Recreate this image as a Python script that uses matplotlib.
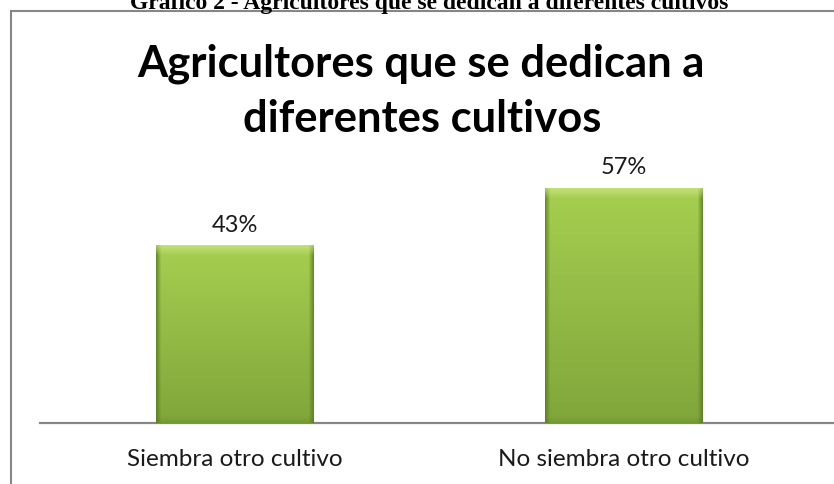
import numpy as np
import matplotlib
matplotlib.use("Agg")
import matplotlib.pyplot as plt
from matplotlib.lines import Line2D
from matplotlib.colors import to_rgb

categories = ["Siembra otro cultivo", "No siembra otro cultivo"]
values = [43, 57]
value_labels = ["43%", "57%"]
title = "Agricultores que se dedican a\ndiferentes cultivos"
header = "Gráfico 2 - Agricultores que se dedican a diferentes cultivos"

W, H = 834, 485
fig = plt.figure(figsize=(W / 100, H / 100), dpi=100)
fig.patch.set_facecolor("white")

FONT = ["Lato", "DejaVu Sans"]

# axes placement (pixels)
ax_left, ax_right, ax_bottom, ax_top = 40, 834, 424, 177
ax = fig.add_axes([ax_left / W, 1 - ax_bottom / H, (ax_right - ax_left) / W, (ax_bottom - ax_top) / H])
for s in ["left", "right", "top"]:
    ax.spines[s].set_visible(False)
ax.spines["bottom"].set_color("#868686")
ax.spines["bottom"].set_linewidth(1.6)
ax.set_yticks([])
ax.set_xticks(range(len(categories)))
ax.set_xticklabels(categories, fontsize=17.5, family=FONT, color="#1a1a1a")
ax.tick_params(axis="x", length=0, pad=18)
ax.patch.set_alpha(0)

x = np.arange(len(categories))
bw = 0.404
bars = ax.bar(x, values, width=bw, color="#9BC748", zorder=2)

# bevel gradient image per bar
ny, nx = 200, 160
yy = np.linspace(0, 1, ny)[:, None]  # 0 top, 1 bottom
xx = np.linspace(0, 1, nx)[None, :]
top_c = np.array(to_rgb("#A6CF50"))
bot_c = np.array(to_rgb("#80A63B"))
base = top_c[None, None, :] * (1 - yy[..., None]) + bot_c[None, None, :] * yy[..., None]
base = np.broadcast_to(base, (ny, nx, 3)).copy()
edge_c = np.array(to_rgb("#5A7824"))
for r in bars:
    h_px = r.get_height() * (ax_bottom - ax_top) / 60.0
    w_px = 158.0
    img = base.copy()
    ex = 5.0 / w_px
    d = np.minimum(xx, 1 - xx)
    side = (np.clip(1 - d / ex, 0, 1)[..., None]) * np.ones((ny, 1, 1))
    img = img * (1 - 0.8 * side) + edge_c * 0.8 * side
    ey = 10.0 / h_px
    topb = np.clip(1 - yy / ey, 0, 1)[..., None] * np.ones((1, nx, 1))
    hl = np.array(to_rgb("#D4EC92"))
    img = img * (1 - 0.6 * topb) + hl * 0.6 * topb
    eb = 6.0 / h_px
    botb = np.clip(1 - (1 - yy) / eb, 0, 1)[..., None] * np.ones((1, nx, 1))
    img = img * (1 - 0.3 * botb) + edge_c * 0.3 * botb
    x0 = r.get_x()
    ax.imshow(np.clip(img, 0, 1), extent=[x0, x0 + r.get_width(), 0, r.get_height()],
              aspect="auto", zorder=3, interpolation="bilinear")

ax.set_xlim(-0.5, 1.54)
ax.set_ylim(0, 60)

for xi, v, lab in zip(x, values, value_labels):
    ax.annotate(lab, (xi, v), xytext=(0, 8), textcoords="offset points",
                ha="center", va="bottom", fontsize=17,
                family=FONT, color="#1a1a1a")

# chart title
fig.text(421 / W, 1 - 76 / H, title.split("\n")[0], ha="center", va="baseline",
         fontsize=31.3, fontweight="bold", family=FONT, color="black")
fig.text(422 / W, 1 - 132 / H, title.split("\n")[1], ha="center", va="baseline",
         fontsize=31.3, fontweight="bold", family=FONT, color="black")

# header (clipped at top, as in the original)
fig.text(429 / W, 1 - 9 / H, header, ha="center", va="baseline",
         fontsize=17, fontweight="bold", family=["Liberation Serif", "DejaVu Serif"], color="black")

# chart border
fig.add_artist(Line2D([10.5 / W, 1.0], [1 - 12 / H, 1 - 12 / H], color="#868686", lw=1.5))
fig.add_artist(Line2D([10.5 / W, 10.5 / W], [0, 1 - 12 / H], color="#868686", lw=1.5))

fig.savefig("out.png", dpi=100)
